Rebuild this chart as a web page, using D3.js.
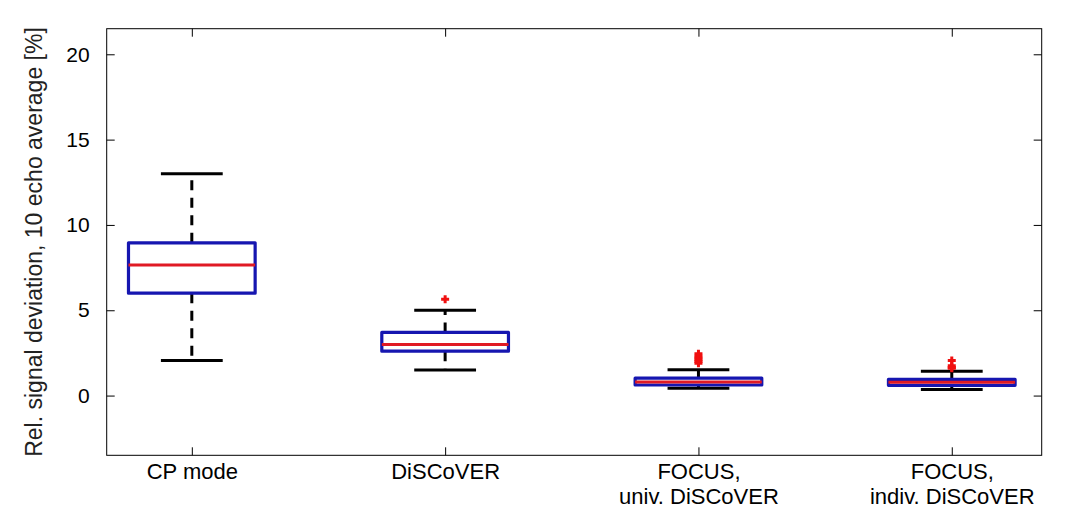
<!DOCTYPE html>
<html>
<head>
<meta charset="utf-8">
<script src="https://cdn.jsdelivr.net/npm/d3@7/dist/d3.min.js"></script>
<style>
  html, body { margin: 0; padding: 0; background: #fff; }
  svg { display: block; font-family: "Liberation Sans", Arial, sans-serif; }
</style>
</head>
<body>
<svg id="chart" width="1074" height="525"></svg>
<script>
// ---- data ----
const categories = [["CP mode"], ["DiSCoVER"], ["FOCUS,", "univ. DiSCoVER"], ["FOCUS,", "indiv. DiSCoVER"]];
const lowerWhisker = [2.05, 1.5, 0.43, 0.35];
const q1Values = [6.0, 2.6, 0.62, 0.6];
const medianValues = [7.65, 3.0, 0.8, 0.78];
const q3Values = [8.95, 3.7, 1.02, 0.95];
const upperWhisker = [13.0, 5.0, 1.52, 1.42];
const outliers = [[], [5.65], [2.45, 2.3, 2.2, 2.1, 2.0, 1.9], [2.05, 1.75, 1.65, 1.6]];
const yTicks = [0, 5, 10, 15, 20];

// ---- layout ----
const plotLeft = 106.7, plotRight = 1041.7, plotTop = 28.7, plotBottom = 455.3;
const svg = d3.select("#chart");

const x = d3.scaleLinear().domain([0.664, 4.355]).range([plotLeft, plotRight]);
const y = d3.scaleLinear().domain([-3.5, 21.5]).range([plotBottom, plotTop]);

const idx = categories.map((c, i) => i + 1);
const boxHalf = 0.25, capHalf = 0.122;
const blue = "#1616b0", red = "#e01a24";

// frame
svg.append("rect").attr("x", plotLeft).attr("y", plotTop)
  .attr("width", plotRight - plotLeft).attr("height", plotBottom - plotTop)
  .attr("fill", "none").attr("stroke", "#000").attr("stroke-width", 1);

// axes (ticks inside, mirrored)
const tickLen = 8;
const yAxisL = d3.axisLeft(y).tickValues(yTicks).tickSizeInner(-tickLen).tickSizeOuter(0).tickPadding(17);
const gyL = svg.append("g").attr("transform", `translate(${plotLeft},0)`).call(yAxisL);
gyL.select(".domain").remove();
gyL.selectAll("text").attr("font-size", 21).attr("fill", "#000")
  .attr("font-family", "'Liberation Sans', Arial, sans-serif");

const yAxisR = d3.axisRight(y).tickValues(yTicks).tickSizeInner(-tickLen).tickSizeOuter(0).tickFormat("");
const gyR = svg.append("g").attr("transform", `translate(${plotRight},0)`).call(yAxisR);
gyR.select(".domain").remove();

const xAxisB = d3.axisBottom(x).tickValues(idx).tickSizeInner(-tickLen).tickSizeOuter(0).tickFormat("");
const gxB = svg.append("g").attr("transform", `translate(0,${plotBottom})`).call(xAxisB);
gxB.select(".domain").remove();
const xAxisT = d3.axisTop(x).tickValues(idx).tickSizeInner(-tickLen).tickSizeOuter(0).tickFormat("");
const gxT = svg.append("g").attr("transform", `translate(0,${plotTop})`).call(xAxisT);
gxT.select(".domain").remove();

// category labels
gxB.selectAll(".tick").each(function(d, i) {
  const t = d3.select(this).append("text")
    .attr("text-anchor", "middle").attr("fill", "#000")
    .attr("font-size", 22).attr("font-family", "'Liberation Sans', Arial, sans-serif");
  categories[i].forEach((line, j) => {
    t.append("tspan").attr("x", 0).attr("y", 24 + j * 25).text(line);
  });
});

// y label
svg.append("text")
  .attr("transform", `translate(34,${(plotTop + plotBottom) / 2}) rotate(-90)`)
  .attr("text-anchor", "middle").attr("dominant-baseline", "central")
  .attr("font-size", 23).attr("fill", "#222")
  .text("Rel. signal deviation, 10 echo average [%]");

// boxes
const g = svg.append("g");
idx.forEach((c, i) => {
  const dash = "10,7.5";
  g.append("line").attr("x1", x(c)).attr("x2", x(c))
    .attr("y1", y(q3Values[i])).attr("y2", y(upperWhisker[i]))
    .attr("stroke", "#000").attr("stroke-width", 3).attr("stroke-dasharray", dash);
  g.append("line").attr("x1", x(c)).attr("x2", x(c))
    .attr("y1", y(q1Values[i])).attr("y2", y(lowerWhisker[i]))
    .attr("stroke", "#000").attr("stroke-width", 3).attr("stroke-dasharray", dash);
  [upperWhisker[i], lowerWhisker[i]].forEach(v => {
    g.append("line").attr("x1", x(c - capHalf)).attr("x2", x(c + capHalf))
      .attr("y1", y(v)).attr("y2", y(v))
      .attr("stroke", "#000").attr("stroke-width", 3);
  });
  g.append("rect").attr("x", x(c - boxHalf)).attr("y", y(q3Values[i]))
    .attr("width", x(c + boxHalf) - x(c - boxHalf))
    .attr("height", y(q1Values[i]) - y(q3Values[i]))
    .attr("fill", "none").attr("stroke", blue).attr("stroke-width", 3.2)
    .attr("stroke-linejoin", "round");
  g.append("line").attr("x1", x(c - boxHalf)).attr("x2", x(c + boxHalf))
    .attr("y1", y(medianValues[i])).attr("y2", y(medianValues[i]))
    .attr("stroke", red).attr("stroke-width", 3);
  outliers[i].forEach(v => {
    const cx = x(c), cy = y(v), s = 4;
    g.append("path")
      .attr("d", `M${cx - s},${cy}H${cx + s}M${cx},${cy - s}V${cy + s}`)
      .attr("stroke", "#f01010").attr("stroke-width", 3).attr("fill", "none");
  });
});
</script>
</body>
</html>
